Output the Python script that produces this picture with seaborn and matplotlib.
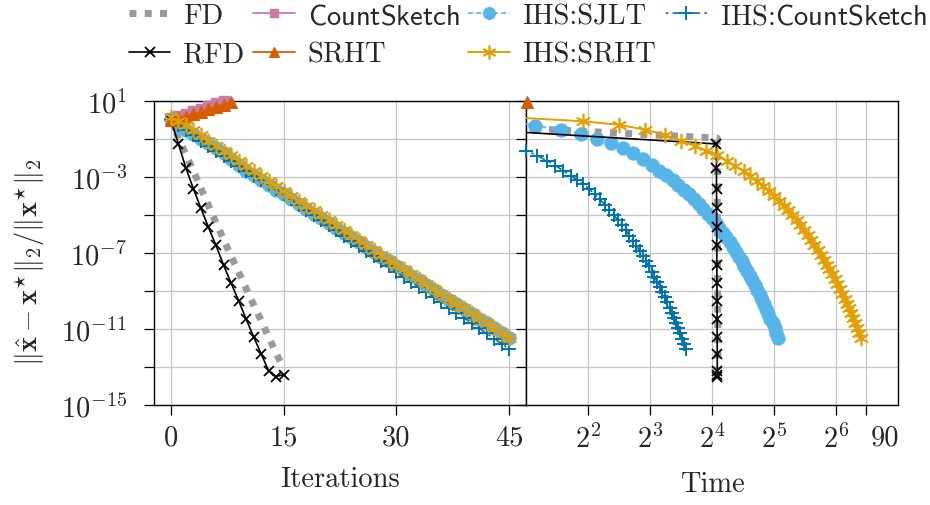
import numpy as np
import pandas as pd
import matplotlib
matplotlib.use("Agg")
import matplotlib.pyplot as plt
import matplotlib.transforms as mtransforms
from matplotlib.lines import Line2D
import seaborn as sns

# ---------------- data (log10 of relative error, and wall-clock time) ----------------
fd_log10 = [0.10, -0.95, -1.82, -2.69, -3.60, -4.50, -5.40, -6.28, -7.15, -8.00,
            -8.86, -9.72, -10.55, -11.42, -12.26, -13.10]
fd_time = [0.20, 16.95, 16.96, 16.97, 16.98, 16.99, 17.00, 17.01, 17.02, 17.03,
           17.04, 17.05, 17.06, 17.07, 17.08, 17.09]

rfd_log10 = [0.00, -1.26, -2.53, -3.63, -4.65, -5.65, -6.60, -7.63, -8.58, -9.50,
             -10.47, -11.40, -12.30, -13.20, -13.50, -13.40]
rfd_time = [0.20, 16.80, 16.82, 16.83, 16.85, 16.86, 16.88, 16.89, 16.91, 16.92,
            16.94, 16.95, 16.97, 16.98, 17.00, 17.01]

cs_log10 = [0.10, 0.22, 0.34, 0.46, 0.60, 0.74, 0.88, 1.00]
cs_time = [0.15, 0.35, 0.55, 0.75, 0.95, 1.15, 1.35, 1.55]

srht_log10 = [0.00, 0.08, 0.18, 0.30, 0.43, 0.56, 0.69, 0.81, 0.93]
srht_time = [0.25, 0.47, 0.69, 0.91, 1.13, 1.35, 1.57, 1.80, 2.02]

ihs_sjlt_log10 = [0.05, -0.30, -0.51, -0.74, -1.00, -1.23, -1.49, -1.75, -2.05, -2.37,
                  -2.67, -2.92, -3.17, -3.42, -3.67, -3.92, -4.17, -4.42, -4.67, -4.93,
                  -5.18, -5.43, -5.68, -5.93, -6.18, -6.43, -6.68, -6.94, -7.19, -7.44,
                  -7.69, -7.94, -8.19, -8.44, -8.69, -8.94, -9.19, -9.45, -9.70, -9.95,
                  -10.20, -10.45, -10.70, -10.95, -11.20, -11.45]
ihs_sjlt_time = [1.50, 2.21, 2.96, 3.70, 4.44, 5.17, 5.90, 6.64, 7.36, 8.17,
                 8.88, 9.59, 10.29, 11.00, 11.70, 12.41, 13.12, 13.82, 14.53, 15.23,
                 15.94, 16.65, 17.35, 18.06, 18.76, 19.47, 20.18, 20.88, 21.59, 22.29,
                 23.00, 23.71, 24.41, 25.12, 25.82, 26.53, 27.24, 27.94, 28.65, 29.35,
                 30.06, 30.77, 31.47, 32.18, 32.88, 33.59]

ihs_cs_log10 = [0.00, -0.27, -0.54, -0.81, -1.08, -1.35, -1.61, -1.88, -2.14, -2.40,
                -2.67, -2.93, -3.14, -3.37, -3.64, -3.91, -4.18, -4.45, -4.73, -5.00,
                -5.27, -5.54, -5.81, -6.08, -6.35, -6.62, -6.89, -7.16, -7.43, -7.71,
                -7.98, -8.25, -8.52, -8.79, -9.06, -9.33, -9.60, -9.87, -10.14, -10.41,
                -10.69, -10.96, -11.23, -11.50, -11.77, -12.05]
ihs_cs_time = [0.50, 0.75, 1.00, 1.26, 1.51, 1.76, 2.01, 2.27, 2.52, 2.78,
               3.03, 3.29, 3.55, 3.80, 4.06, 4.31, 4.57, 4.83, 5.08, 5.34,
               5.59, 5.85, 6.11, 6.36, 6.62, 6.87, 7.13, 7.39, 7.64, 7.90,
               8.15, 8.41, 8.67, 8.92, 9.18, 9.43, 9.69, 9.95, 10.20, 10.46,
               10.71, 10.97, 11.23, 11.48, 11.74, 12.00]

ihs_srht_log10 = [0.15, -0.07, -0.25, -0.51, -0.77, -1.09, -1.38, -1.61, -1.84, -2.14,
                  -2.40, -2.67, -2.93, -3.20, -3.46, -3.72, -3.98, -4.24, -4.50, -4.76,
                  -5.02, -5.28, -5.54, -5.80, -6.06, -6.32, -6.58, -6.83, -7.09, -7.35,
                  -7.61, -7.86, -8.12, -8.38, -8.63, -8.89, -9.14, -9.40, -9.66, -9.91,
                  -10.17, -10.42, -10.68, -10.93, -11.19, -11.45]
ihs_srht_time = [1.66, 3.80, 5.66, 7.57, 9.45, 11.3, 13.3, 15.0, 17.0, 18.9,
                 20.7, 22.8, 24.4, 26.4, 28.4, 30.2, 32.0, 33.9, 35.7, 37.5,
                 39.3, 41.2, 43.0, 44.8, 46.6, 48.5, 50.3, 52.1, 53.9, 55.8,
                 57.6, 59.4, 61.2, 63.1, 64.9, 66.7, 68.5, 70.4, 72.2, 74.0,
                 75.8, 77.7, 79.5, 81.3, 83.1, 85.0]

ytick_vals = [1e1, 1e-1, 1e-3, 1e-5, 1e-7, 1e-9, 1e-11, 1e-13, 1e-15]
ytick_labels = [r"$10^{1}$", "", r"$10^{-3}$", "", r"$10^{-7}$", "",
                r"$10^{-11}$", "", r"$10^{-15}$"]
iter_ticks = [0, 15, 30, 45]
iter_tick_labels = ["0", "15", "30", "45"]
time_ticks = [4, 8, 16, 32, 64, 90]
time_tick_labels = [r"$2^{2}$", r"$2^{3}$", r"$2^{4}$", r"$2^{5}$", r"$2^{6}$", "90"]

series = {
    "FD": (fd_log10, fd_time),
    "RFD": (rfd_log10, rfd_time),
    "CountSketch": (cs_log10, cs_time),
    "SRHT": (srht_log10, srht_time),
    "IHS:SJLT": (ihs_sjlt_log10, ihs_sjlt_time),
    "IHS:CountSketch": (ihs_cs_log10, ihs_cs_time),
    "IHS:SRHT": (ihs_srht_log10, ihs_srht_time),
}
rows = []
for name, (vals, times) in series.items():
    for it, (v, t) in enumerate(zip(vals, times)):
        rows.append(dict(method=name, iteration=it, time=t, error=10.0 ** v))
df = pd.DataFrame(rows)

# ---------------- styles ----------------
star = (6, 2, 0)
styles = {
    "FD": dict(color="#9a9a9a", lw=5.0, ls=(0, (1, 1.2)), marker=None, ms=0, mew=0, z=2),
    "CountSketch": dict(color="#CC79A7", lw=1.3, ls="-", marker="s", ms=6.5, mew=1.0, z=3),
    "IHS:SJLT": dict(color="#56B4E9", lw=1.2, ls=(0, (3, 2)), marker="o", ms=9.5, mew=0.8, z=4),
    "IHS:CountSketch": dict(color="#0072B2", lw=1.2, ls=(0, (1.5, 2.5, 5, 2.5)), marker="+", ms=10.5, mew=1.4, z=5),
    "RFD": dict(color="black", lw=1.2, ls="-", marker="x", ms=7.5, mew=1.3, z=6),
    "SRHT": dict(color="#D55E00", lw=1.3, ls="-", marker="^", ms=8, mew=0.8, z=7),
    "IHS:SRHT": dict(color="#E69F00", lw=1.4, ls="-", marker=star, ms=11, mew=1.2, z=8),
}
draw_order = ["FD", "CountSketch", "IHS:SJLT", "IHS:CountSketch", "RFD", "SRHT", "IHS:SRHT"]
legend_order = ["FD", "RFD", "CountSketch", "SRHT", "IHS:SJLT", "IHS:SRHT", "IHS:CountSketch"]
legend_text = {
    "FD": "FD", "RFD": "RFD", "CountSketch": r"$\mathsf{CountSketch}$", "SRHT": "SRHT",
    "IHS:SJLT": "IHS:SJLT", "IHS:SRHT": "IHS:SRHT",
    "IHS:CountSketch": r"IHS:$\mathsf{CountSketch}$",
}

# ---------------- theme ----------------
sns.set_style("white")
FS = 20.5
plt.rcParams.update({
    "font.family": ["cmr10", "DejaVu Serif"],
    "mathtext.fontset": "cm",
    "axes.formatter.use_mathtext": True,
    "axes.unicode_minus": True,
    "font.size": FS,
    "axes.edgecolor": "black",
    "axes.linewidth": 1.0,
})

fig = plt.figure(figsize=(9.3, 5.06), dpi=100)
W, H = 930, 506
y0, y1 = 102, 406
ax1 = fig.add_axes([154 / W, (H - y1) / H, 372 / W, (y1 - y0) / H])
ax2 = fig.add_axes([526 / W, (H - y1) / H, 372 / W, (y1 - y0) / H])

ylim = (1e-15, 1e1)
xlim1 = (-2.25, 47.25)
xlim2 = (2.0, 128.0)


def draw(ax, xcol, xlim):
    ax.set_yscale("log")
    if xcol == "time":
        ax.set_xscale("log", base=2)
    for name in draw_order:
        st = styles[name]
        sub = df[df.method == name]
        sns.lineplot(data=sub, x=xcol, y="error", ax=ax, estimator=None, sort=False,
                     color=st["color"], linewidth=st["lw"], linestyle=st["ls"],
                     zorder=st["z"], legend=False, dash_capstyle="butt")
        if st["marker"] is not None:
            vis = sub[(sub[xcol] >= xlim[0]) & (sub[xcol] <= xlim[1]) &
                      (sub.error >= ylim[0]) & (sub.error <= ylim[1] * 1.01)]
            sns.lineplot(data=vis, x=xcol, y="error", ax=ax, estimator=None, sort=False,
                         linestyle="none", marker=st["marker"], markersize=st["ms"],
                         markeredgecolor=st["color"], markerfacecolor=st["color"],
                         markeredgewidth=st["mew"], color=st["color"],
                         clip_on=False, zorder=st["z"] + 0.5, legend=False)
    ax.set_xlim(*xlim)
    ax.set_ylim(*ylim)
    ax.minorticks_off()
    ax.set_yticks(ytick_vals)
    ax.grid(True, color="#c4c4c4", linewidth=0.9)
    ax.set_axisbelow(True)
    for sp in ax.spines.values():
        sp.set_visible(True)
        sp.set_color("black")
        sp.set_linewidth(1.0)
    ax.tick_params(axis="both", which="major", direction="out", length=7.5, width=0.9,
                   color="black", labelsize=FS, bottom=True, left=True, top=False, right=False)
    ax.tick_params(axis="x", pad=6)
    ax.tick_params(axis="y", pad=12)


draw(ax1, "iteration", xlim1)
draw(ax2, "time", xlim2)

ax1.set_yticklabels(ytick_labels)
ax1.set_xticks(iter_ticks)
ax1.set_xticklabels(iter_tick_labels)
ax2.set_xticks(time_ticks)
ax2.set_xticklabels(time_tick_labels)
ax2.minorticks_off()
ax2.tick_params(axis="y", labelleft=False)

# the last time label sits to the right of its tick
last = ax2.get_xticklabels()[-1]
last.set_horizontalalignment("left")
last.set_transform(last.get_transform() +
                   mtransforms.ScaledTranslation(4 / 100, 0, fig.dpi_scale_trans))

ax1.set_xlabel("Iterations", fontsize=FS)
ax2.set_xlabel("Time", fontsize=FS)
ax1.xaxis.set_label_coords(0.5, -0.2)
ax2.xaxis.set_label_coords(0.5, -0.216)
ax1.set_ylabel(r"$\|\hat{\mathbf{x}}-\mathbf{x}^{\star}\|_2/\|\mathbf{x}^{\star}\|_2$",
               fontsize=FS, va="center")
ax1.yaxis.set_label_coords(-0.335, 0.474)
ax2.set_ylabel("")

handles = []
labels = []
for name in legend_order:
    st = styles[name]
    h = Line2D([], [], color=st["color"], linewidth=st["lw"], linestyle=st["ls"],
               marker=st["marker"], markersize=st["ms"] * 0.9,
               markeredgecolor=st["color"], markerfacecolor=st["color"],
               markeredgewidth=st["mew"], dash_capstyle="butt")
    handles.append(h)
    labels.append(legend_text[name])

fig.legend(handles, labels, ncol=4, loc="upper left", bbox_to_anchor=(129 / W, 1 - 4 / H),
           frameon=False, fontsize=FS, handlelength=1.45, handletextpad=0.45,
           columnspacing=0.32, labelspacing=0.42, borderpad=0.0, borderaxespad=0.0)

fig.savefig("out.png", dpi=100)
